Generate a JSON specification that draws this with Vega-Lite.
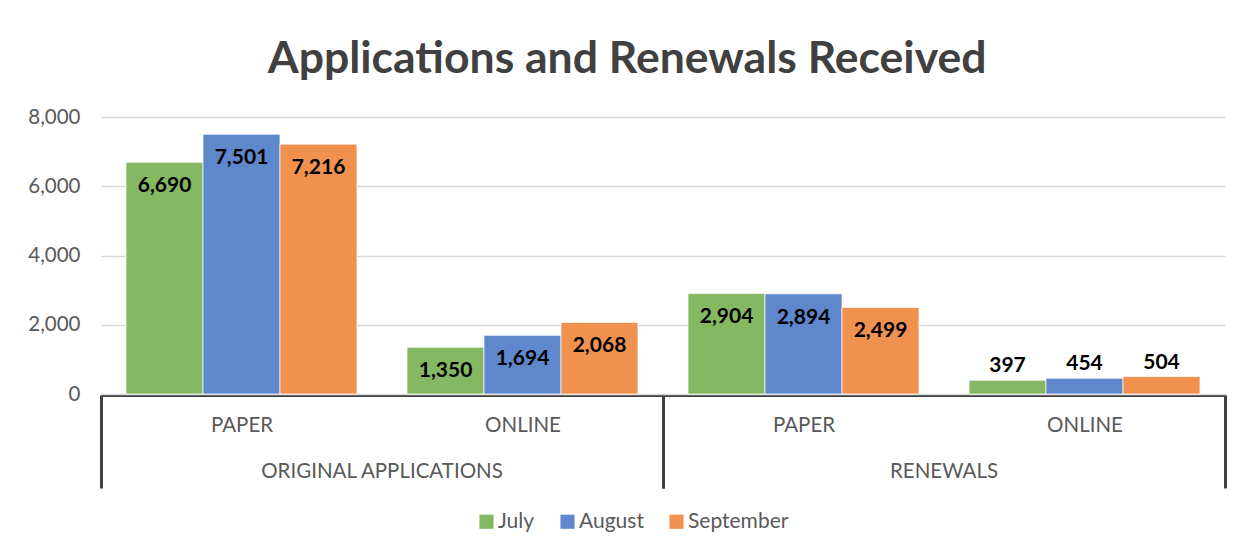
{
  "$schema": "https://vega.github.io/schema/vega-lite/v6.json",
  "background": "white",
  "padding": {"left": 27, "top": 36, "right": 22, "bottom": 10},
  "title": {
    "text": "Applications and Renewals Received",
    "font": "Lato",
    "fontSize": 44.5,
    "fontWeight": "bold",
    "color": "#404040",
    "anchor": "middle",
    "offset": 25
  },
  "data": {
    "values": [
      {"group": "ORIGINAL APPLICATIONS", "sub": "PAPER", "month": "July", "value": 6690},
      {"group": "ORIGINAL APPLICATIONS", "sub": "PAPER", "month": "August", "value": 7501},
      {"group": "ORIGINAL APPLICATIONS", "sub": "PAPER", "month": "September", "value": 7216},
      {"group": "ORIGINAL APPLICATIONS", "sub": "ONLINE", "month": "July", "value": 1350},
      {"group": "ORIGINAL APPLICATIONS", "sub": "ONLINE", "month": "August", "value": 1694},
      {"group": "ORIGINAL APPLICATIONS", "sub": "ONLINE", "month": "September", "value": 2068},
      {"group": "RENEWALS", "sub": "PAPER", "month": "July", "value": 2904},
      {"group": "RENEWALS", "sub": "PAPER", "month": "August", "value": 2894},
      {"group": "RENEWALS", "sub": "PAPER", "month": "September", "value": 2499},
      {"group": "RENEWALS", "sub": "ONLINE", "month": "July", "value": 397},
      {"group": "RENEWALS", "sub": "ONLINE", "month": "August", "value": 454},
      {"group": "RENEWALS", "sub": "ONLINE", "month": "September", "value": 504}
    ]
  },
  "facet": {
    "column": {
      "field": "group",
      "type": "nominal",
      "sort": ["ORIGINAL APPLICATIONS", "RENEWALS"],
      "title": null,
      "header": {
        "labelOrient": "bottom",
        "labelFont": "Lato",
        "labelFontSize": 20.5,
        "labelColor": "#595959",
        "labelPadding": -18,
        "labelBaseline": "middle"
      }
    }
  },
  "spacing": 0,
  "spec": {
    "width": 562,
    "height": 277,
    "encoding": {
      "x": {
        "field": "sub",
        "type": "nominal",
        "sort": ["PAPER", "ONLINE"],
        "title": null,
        "scale": {"paddingInner": 0, "paddingOuter": 0},
        "axis": {
          "labelAngle": 0,
          "labelFont": "Lato",
          "labelFontSize": 20.5,
          "labelColor": "#595959",
          "labelPadding": -73,
          "labelBaseline": "top",
          "domainColor": "#404040",
          "domainWidth": 3,
          "tickBand": "extent",
          "tickSize": 93,
          "tickWidth": 3,
          "tickColor": "#404040",
          "tickOpacity": {"condition": {"test": "datum.value === 'PAPER' && datum.index < 1", "value": 0}, "value": 1}
        }
      },
      "xOffset": {
        "field": "month",
        "type": "nominal",
        "sort": ["July", "August", "September"],
        "scale": {"paddingInner": 0, "paddingOuter": 0.325}
      },
      "y": {
        "field": "value",
        "type": "quantitative",
        "title": null,
        "scale": {"domain": [0, 8000]},
        "axis": {
          "values": [0, 2000, 4000, 6000, 8000],
          "format": ",d",
          "domain": false,
          "ticks": false,
          "labelPadding": 21,
          "labelFont": "Lato",
          "labelFontSize": 20.5,
          "labelColor": "#595959",
          "gridColor": "#d9d9d9",
          "gridWidth": 1.3
        }
      }
    },
    "layer": [
      {
        "mark": {"type": "bar", "stroke": "#ffffff", "strokeWidth": 1, "strokeOpacity": 0.7},
        "encoding": {
          "color": {
            "field": "month",
            "type": "nominal",
            "sort": ["July", "August", "September"],
            "title": null,
            "scale": {"domain": ["July", "August", "September"], "range": ["#84b862", "#5f87cc", "#f09150"]},
            "legend": {
              "orient": "none",
              "legendX": 375,
              "legendY": 394,
              "direction": "horizontal",
              "symbolType": "square",
              "symbolSize": 200,
              "symbolStrokeWidth": 0,
              "symbolOpacity": 1,
              "labelFont": "Lato",
              "labelFontSize": 21,
              "labelColor": "#595959",
              "labelOffset": 1,
              "columnPadding": 22
            }
          }
        }
      },
      {
        "transform": [{"filter": "datum.value >= 1000"}],
        "mark": {"type": "text", "font": "Lato", "fontSize": 21, "fontWeight": "bold", "color": "#000000", "baseline": "middle", "dy": 24},
        "encoding": {"text": {"field": "value", "type": "quantitative", "format": ","}}
      },
      {
        "transform": [{"filter": "datum.value < 1000"}],
        "mark": {"type": "text", "font": "Lato", "fontSize": 21, "fontWeight": "bold", "color": "#000000", "baseline": "middle", "dy": -14},
        "encoding": {"text": {"field": "value", "type": "quantitative", "format": ","}}
      }
    ]
  },
  "config": {"view": {"stroke": null}}
}
